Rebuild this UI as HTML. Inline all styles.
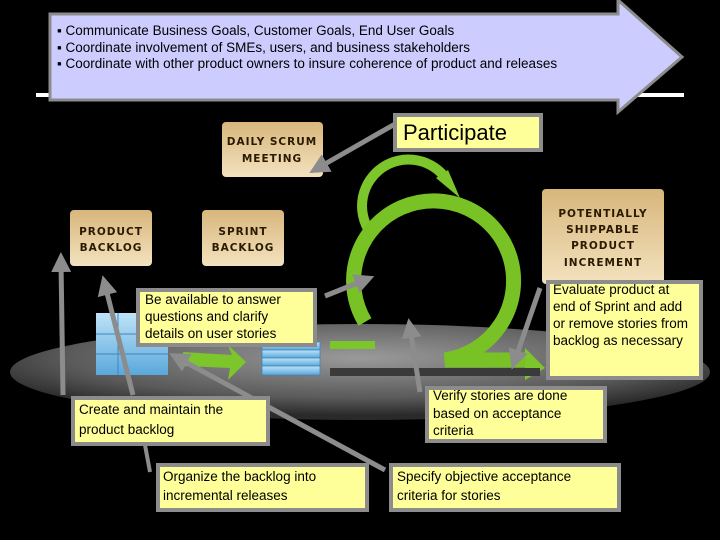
<!DOCTYPE html>
<html><head><meta charset="utf-8"><style>
html,body{margin:0;padding:0;background:#000;}
svg{display:block}
text{font-family:"Liberation Sans",sans-serif;}
.t{font-family:"Liberation Sans",sans-serif;font-size:13.5px;fill:#000}
.c{font-family:"DejaVu Sans",sans-serif;font-weight:bold;font-size:10.5px;fill:#2a1a00;text-anchor:middle;letter-spacing:1px}
</style></head><body>
<svg width="720" height="540" viewBox="0 0 720 540" xmlns="http://www.w3.org/2000/svg">
<defs>
<linearGradient id="tan" x1="0" y1="0" x2="0" y2="1"><stop offset="0" stop-color="#d8b67c"/><stop offset="1" stop-color="#f3e2bf"/></linearGradient>
<radialGradient id="disk" cx="0.5" cy="0.35" r="0.6"><stop offset="0" stop-color="#9a9a9a"/><stop offset="0.7" stop-color="#5a5a5a"/><stop offset="1" stop-color="#2a2a2a"/></radialGradient>
<linearGradient id="blue" x1="0" y1="0" x2="0" y2="1"><stop offset="0" stop-color="#bfe3f7"/><stop offset="1" stop-color="#5aa8dc"/></linearGradient>
<marker id="ah" markerWidth="4" markerHeight="4" refX="2" refY="2" orient="auto" markerUnits="strokeWidth"><path d="M0,0 L4,2 L0,4 z" fill="#8c8c8c"/></marker>
</defs>
<rect width="720" height="540" fill="#000"/>
<rect x="36" y="93" width="648" height="4" fill="#fff"/>
<path d="M50,14 L618,14 L618,0 L682,57 L618,112 L618,100 L50,100 Z" fill="#ccccff" stroke="#8c8c8c" stroke-width="3"/>
<text class="t" x="57" y="35" font-size="13">▪ Communicate Business Goals, Customer Goals, End User Goals</text>
<text class="t" x="57" y="52" font-size="13">▪ Coordinate involvement of SMEs, users, and business stakeholders</text>
<text class="t" x="57" y="68" font-size="13">▪ Coordinate with other product owners to insure coherence of product and releases</text>

<ellipse cx="360" cy="372" rx="350" ry="48" fill="url(#disk)"/>

<!-- tan boxes -->
<rect x="222" y="122" width="101" height="55" rx="4" fill="url(#tan)"/>
<text class="c" x="272" y="145">DAILY SCRUM</text><text class="c" x="272" y="162">MEETING</text>
<rect x="70" y="210" width="82" height="56" rx="4" fill="url(#tan)"/>
<text class="c" x="111" y="235">PRODUCT</text><text class="c" x="111" y="251">BACKLOG</text>
<rect x="202" y="210" width="82" height="56" rx="4" fill="url(#tan)"/>
<text class="c" x="243" y="235">SPRINT</text><text class="c" x="243" y="251">BACKLOG</text>
<rect x="542" y="189" width="122" height="95" rx="4" fill="url(#tan)"/>
<text class="c" x="603" y="217">POTENTIALLY</text><text class="c" x="603" y="233">SHIPPABLE</text><text class="c" x="603" y="249">PRODUCT</text><text class="c" x="603" y="266">INCREMENT</text>

<!-- blue blocks -->
<rect x="96" y="313" width="72" height="62" fill="url(#blue)"/>
<line x1="96" y1="334" x2="168" y2="334" stroke="#3d86c0"/><line x1="96" y1="354" x2="168" y2="354" stroke="#3d86c0"/><line x1="118" y1="313" x2="118" y2="375" stroke="#3d86c0"/>
<g fill="url(#blue)" stroke="#3d86c0" stroke-width="0.8">
<rect x="262" y="342" width="58" height="8"/><rect x="262" y="350" width="58" height="8"/><rect x="262" y="358" width="58" height="8"/><rect x="262" y="366" width="58" height="9"/></g>

<!-- green -->
<path d="M183,352 L232,355 L228,345 L246,362 L228,380 L230,368 L185,366 Z" fill="#7cc52a"/>
<path d="M370,232 A42,42 0 1 1 447,180" fill="none" stroke="#7cc52a" stroke-width="10"/>
<path d="M436,178 L460,198 L448,170 Z" fill="#7cc52a"/>
<path d="M365,322 A80,80 0 1 1 445,360 L530,360" fill="none" stroke="#78c226" stroke-width="15"/>
<path d="M525,348 L545,368 L525,380 Z" fill="#7cc52a"/>
<path d="M330,345 L375,345" stroke="#7cc52a" stroke-width="8"/>
<rect x="330" y="368" width="210" height="8" fill="#3a3a3a"/>

<!-- connectors -->
<g stroke="#8c8c8c" stroke-width="5" fill="none" marker-end="url(#ah)">
<line x1="395" y1="124" x2="318" y2="168"/>
<line x1="325" y1="296" x2="365" y2="280"/>
<line x1="63" y1="395" x2="61" y2="262"/>
<line x1="133" y1="395" x2="105" y2="285"/>
<line x1="385" y1="470" x2="178" y2="358"/>
<line x1="420" y1="392" x2="410" y2="328"/>
<line x1="540" y1="288" x2="515" y2="360"/>
</g>
<line x1="150" y1="472" x2="145" y2="445" stroke="#8c8c8c" stroke-width="4"/>

<!-- yellow boxes -->
<g fill="#ffff99" stroke="#8c8c8c" stroke-width="4">
<rect x="395" y="115" width="146" height="35"/>
<rect x="138" y="290" width="177" height="55"/>
<rect x="548" y="282" width="153" height="96"/>
<rect x="73" y="398" width="195" height="46"/>
<rect x="427" y="388" width="178" height="53"/>
<rect x="158" y="465" width="209" height="45"/>
<rect x="391" y="465" width="228" height="45"/>
</g>
<text x="403" y="140" font-size="22" fill="#000">Participate</text>
<text class="t" x="145" y="304" font-size="12.5">Be available to answer</text>
<text class="t" x="145" y="321" font-size="12.5">questions and clarify</text>
<text class="t" x="145" y="338" font-size="12.5">details on user stories</text>
<text class="t" x="553" y="294" font-size="12.5">Evaluate product at</text>
<text class="t" x="553" y="311" font-size="12.5">end of Sprint and add</text>
<text class="t" x="553" y="328" font-size="12.5">or remove stories from</text>
<text class="t" x="553" y="345" font-size="12.5">backlog as necessary</text>
<text class="t" x="79" y="414" font-size="14.5">Create and maintain the</text>
<text class="t" x="79" y="434" font-size="14.5">product backlog</text>
<text class="t" x="433" y="400" font-size="12.5">Verify stories are done</text>
<text class="t" x="433" y="418" font-size="12.5">based on acceptance</text>
<text class="t" x="433" y="435" font-size="12.5">criteria</text>
<text class="t" x="163" y="481" font-size="14.5">Organize the backlog into</text>
<text class="t" x="163" y="500" font-size="14.5">incremental releases</text>
<text class="t" x="397" y="481" font-size="14.5">Specify objective acceptance</text>
<text class="t" x="397" y="500" font-size="14.5">criteria for stories</text>
</svg>
</body></html>
